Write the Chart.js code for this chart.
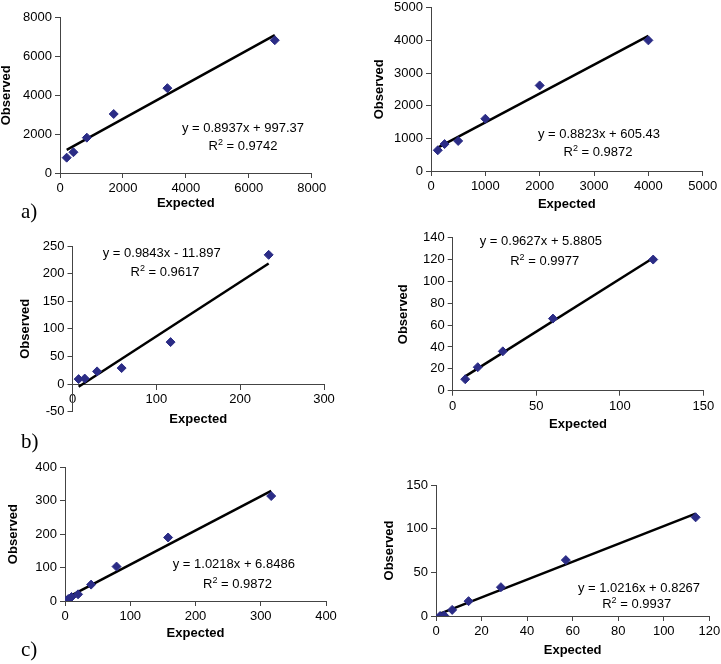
<!DOCTYPE html>
<html>
<head>
<meta charset="utf-8">
<script src="https://cdn.jsdelivr.net/npm/chart.js@4.4.0/dist/chart.umd.min.js"></script>
<style>
  body { margin: 0; background: #fff; }
  #page { position: relative; width: 721px; height: 664px; overflow: hidden; background: #fff;
          font-family: "Liberation Sans", Arial, sans-serif; }
  canvas { position: absolute; }
  .eq { position: absolute; font-size: 13px; line-height: 15px; white-space: nowrap; color: #000;
        transform: translate(-50%, -50%); }
  .eq sup { font-size: 9px; line-height: 0; vertical-align: 5px; }
  .tag { position: absolute; font-family: "Liberation Serif", "Times New Roman", serif; font-size: 21px;
         line-height: 24px; color: #000; transform: translateY(-50%); }
</style>
</head>
<body>
<div id="page"></div>
<script>
// a) left
const expectedA1 = [213, 427, 853, 1707, 3413, 6827];
const observedA1 = [790, 1070, 1820, 3040, 4370, 6840];
const trendA1 = [[213, 1188], [6827, 7099]];
const xRangeA1 = [0, 8000, 2000];
const yRangeA1 = [0, 8000, 2000];
const eqA1 = ['y = 0.8937x + 997.37', '0.9742'];

// a) right
const expectedA2 = [125, 250, 500, 1000, 2000, 4000];
const observedA2 = [635, 825, 920, 1600, 2620, 4000];
const trendA2 = [[125, 716], [4000, 4135]];
const xRangeA2 = [0, 5000, 1000];
const yRangeA2 = [0, 5000, 1000];
const eqA2 = ['y = 0.8823x + 605.43', '0.9872'];

// b) left
const expectedB1 = [7.3, 14.6, 29.3, 58.6, 117, 234];
const observedB1 = [9, 10, 23, 29, 76, 234];
const trendB1 = [[7.3, -4.7], [234, 218.4]];
const xRangeB1 = [0, 300, 100];
const yRangeB1 = [-50, 250, 50];
const eqB1 = ['y = 0.9843x - 11.897', '0.9617'];

// b) right
const expectedB2 = [7.5, 15, 30, 60, 120];
const observedB2 = [10.5, 21.5, 36, 66, 120];
const trendB2 = [[7.5, 13.1], [120, 121.4]];
const xRangeB2 = [0, 150, 50];
const yRangeB2 = [0, 140, 20];
const eqB2 = ['y = 0.9627x + 5.8805', '0.9977'];

// c) left
const expectedC1 = [2.5, 5, 10, 20, 40, 79, 158, 316];
const observedC1 = [1, 6, 12, 20, 49, 103, 190, 314];
const trendC1 = [[2.5, 9.4], [316, 329.7]];
const xRangeC1 = [0, 400, 100];
const yRangeC1 = [0, 400, 100];
const eqC1 = ['y = 1.0218x + 6.8486', '0.9872'];

// c) right
const expectedC2 = [1.8, 3.6, 7.1, 14.3, 28.5, 57, 114];
const observedC2 = [0, 0.5, 7, 17, 33, 64, 113];
const trendC2 = [[1.8, 2.7], [114, 117.3]];
const xRangeC2 = [0, 120, 20];
const yRangeC2 = [0, 150, 50];
const eqC2 = ['y = 1.0216x + 0.8267', '0.9937'];

const FONT = '"Liberation Sans", Arial, sans-serif';
const markerColor = '#2B2C86';
const axisColor = '#444';

// plot area and text placement for each panel (page pixels)
const panels = [
  { ex: expectedA1, ob: observedA1, tr: trendA1, xr: xRangeA1, yr: yRangeA1, eq: eqA1,
    L: 60, T: 17.7, R: 311.7, B: 173, yTitleX: 7, xTitleY: 203.3, eq1: [243, 127.3], eq2: [243, 144.5] },
  { ex: expectedA2, ob: observedA2, tr: trendA2, xr: xRangeA2, yr: yRangeA2, eq: eqA2,
    L: 431, T: 7.7, R: 702.7, B: 171, yTitleX: 380, xTitleY: 204, eq1: [599, 133.3], eq2: [598, 151] },
  { ex: expectedB1, ob: observedB1, tr: trendB1, xr: xRangeB1, yr: yRangeB1, eq: eqB1, xAtZero: true,
    L: 72.5, T: 246, R: 324, B: 411.7, yTitleX: 25.7, xTitleY: 419, eq1: [161.7, 251.7], eq2: [165, 271] },
  { ex: expectedB2, ob: observedB2, tr: trendB2, xr: xRangeB2, yr: yRangeB2, eq: eqB2,
    L: 452.7, T: 237.7, R: 703.3, B: 390.7, yTitleX: 404, xTitleY: 424, eq1: [540.8, 240], eq2: [544.7, 259.5] },
  { ex: expectedC1, ob: observedC1, tr: trendC1, xr: xRangeC1, yr: yRangeC1, eq: eqC1,
    L: 65, T: 467.3, R: 326, B: 601, yTitleX: 13.3, xTitleY: 633, eq1: [233.8, 563.3], eq2: [237.5, 582.5] },
  { ex: expectedC2, ob: observedC2, tr: trendC2, xr: xRangeC2, yr: yRangeC2, eq: eqC2,
    L: 436, T: 485, R: 709.3, B: 616, yTitleX: 390, xTitleY: 650, eq1: [639, 586.7], eq2: [636.7, 603] }
];

const tags = [['a)', 21, 211], ['b)', 21, 440.7], ['c)', 21, 649]];

const page = document.getElementById('page');

function addText(cls, html, x, y) {
  const d = document.createElement('div');
  d.className = cls;
  d.innerHTML = html;
  d.style.left = x + 'px';
  d.style.top = y + 'px';
  page.appendChild(d);
}

function axisOpts(range, title) {
  return {
    type: 'linear',
    min: range[0],
    max: range[1],
    border: { display: true, color: axisColor, width: 1 },
    grid: { display: true, drawOnChartArea: false, drawTicks: true, tickLength: 5, color: axisColor, lineWidth: 1 },
    ticks: { stepSize: range[2], autoSkip: false, maxRotation: 0, padding: 3, color: '#000',
             font: { family: FONT, size: 13 }, callback: v => String(v) },
    title: { display: true, text: title, color: '#000', padding: 0,
             font: { family: FONT, size: 13, weight: 'bold', lineHeight: 1.2 } }
  };
}

panels.forEach(p => {
  // canvas box chosen so the chart area lands on the plot rectangle
  const cl = Math.round(p.yTitleX - 7.8);
  const ct = Math.round(p.T - 14);
  const cb = Math.round(p.xTitleY + 7.8);
  const cr = Math.round(p.R + 22);
  const yW = p.L - cl;
  const y0 = p.B - (0 - p.yr[0]) / (p.yr[1] - p.yr[0]) * (p.B - p.T);
  const xH = p.xAtZero ? cb - y0 : cb - p.B;

  const canvas = document.createElement('canvas');
  canvas.width = cr - cl;
  canvas.height = cb - ct;
  canvas.style.left = cl + 'px';
  canvas.style.top = ct + 'px';
  page.appendChild(canvas);

  const xAxis = axisOpts(p.xr, 'Expected');
  xAxis.afterFit = s => { s.height = xH; };
  if (p.xAtZero) xAxis.position = { y: 0 };
  else xAxis.position = 'bottom';
  const yAxis = axisOpts(p.yr, 'Observed');
  yAxis.position = 'left';
  yAxis.afterFit = s => { s.width = yW; };

  new Chart(canvas.getContext('2d'), {
    type: 'scatter',
    data: {
      datasets: [
        {
          data: p.ex.map((x, i) => ({ x: x, y: p.ob[i] })),
          pointStyle: 'rectRot',
          pointRadius: 4.5,
          pointBackgroundColor: markerColor,
          pointBorderColor: markerColor,
          pointBorderWidth: 1,
          showLine: false
        },
        {
          data: p.tr.map(d => ({ x: d[0], y: d[1] })),
          showLine: true,
          borderColor: '#000',
          borderWidth: 2.5,
          pointRadius: 0
        }
      ]
    },
    options: {
      responsive: false,
      animation: false,
      devicePixelRatio: 1,
      layout: { padding: { left: 0, top: p.T - ct, right: cr - p.R, bottom: p.xAtZero ? cb - p.B : 0 } },
      plugins: { legend: { display: false }, tooltip: { enabled: false } },
      scales: { x: xAxis, y: yAxis }
    }
  });

  addText('eq', p.eq[0], p.eq1[0], p.eq1[1]);
  addText('eq', 'R<sup>2</sup> = ' + p.eq[1], p.eq2[0], p.eq2[1]);
});

tags.forEach(t => addText('tag', t[0], t[1], t[2]));
</script>
</body>
</html>
